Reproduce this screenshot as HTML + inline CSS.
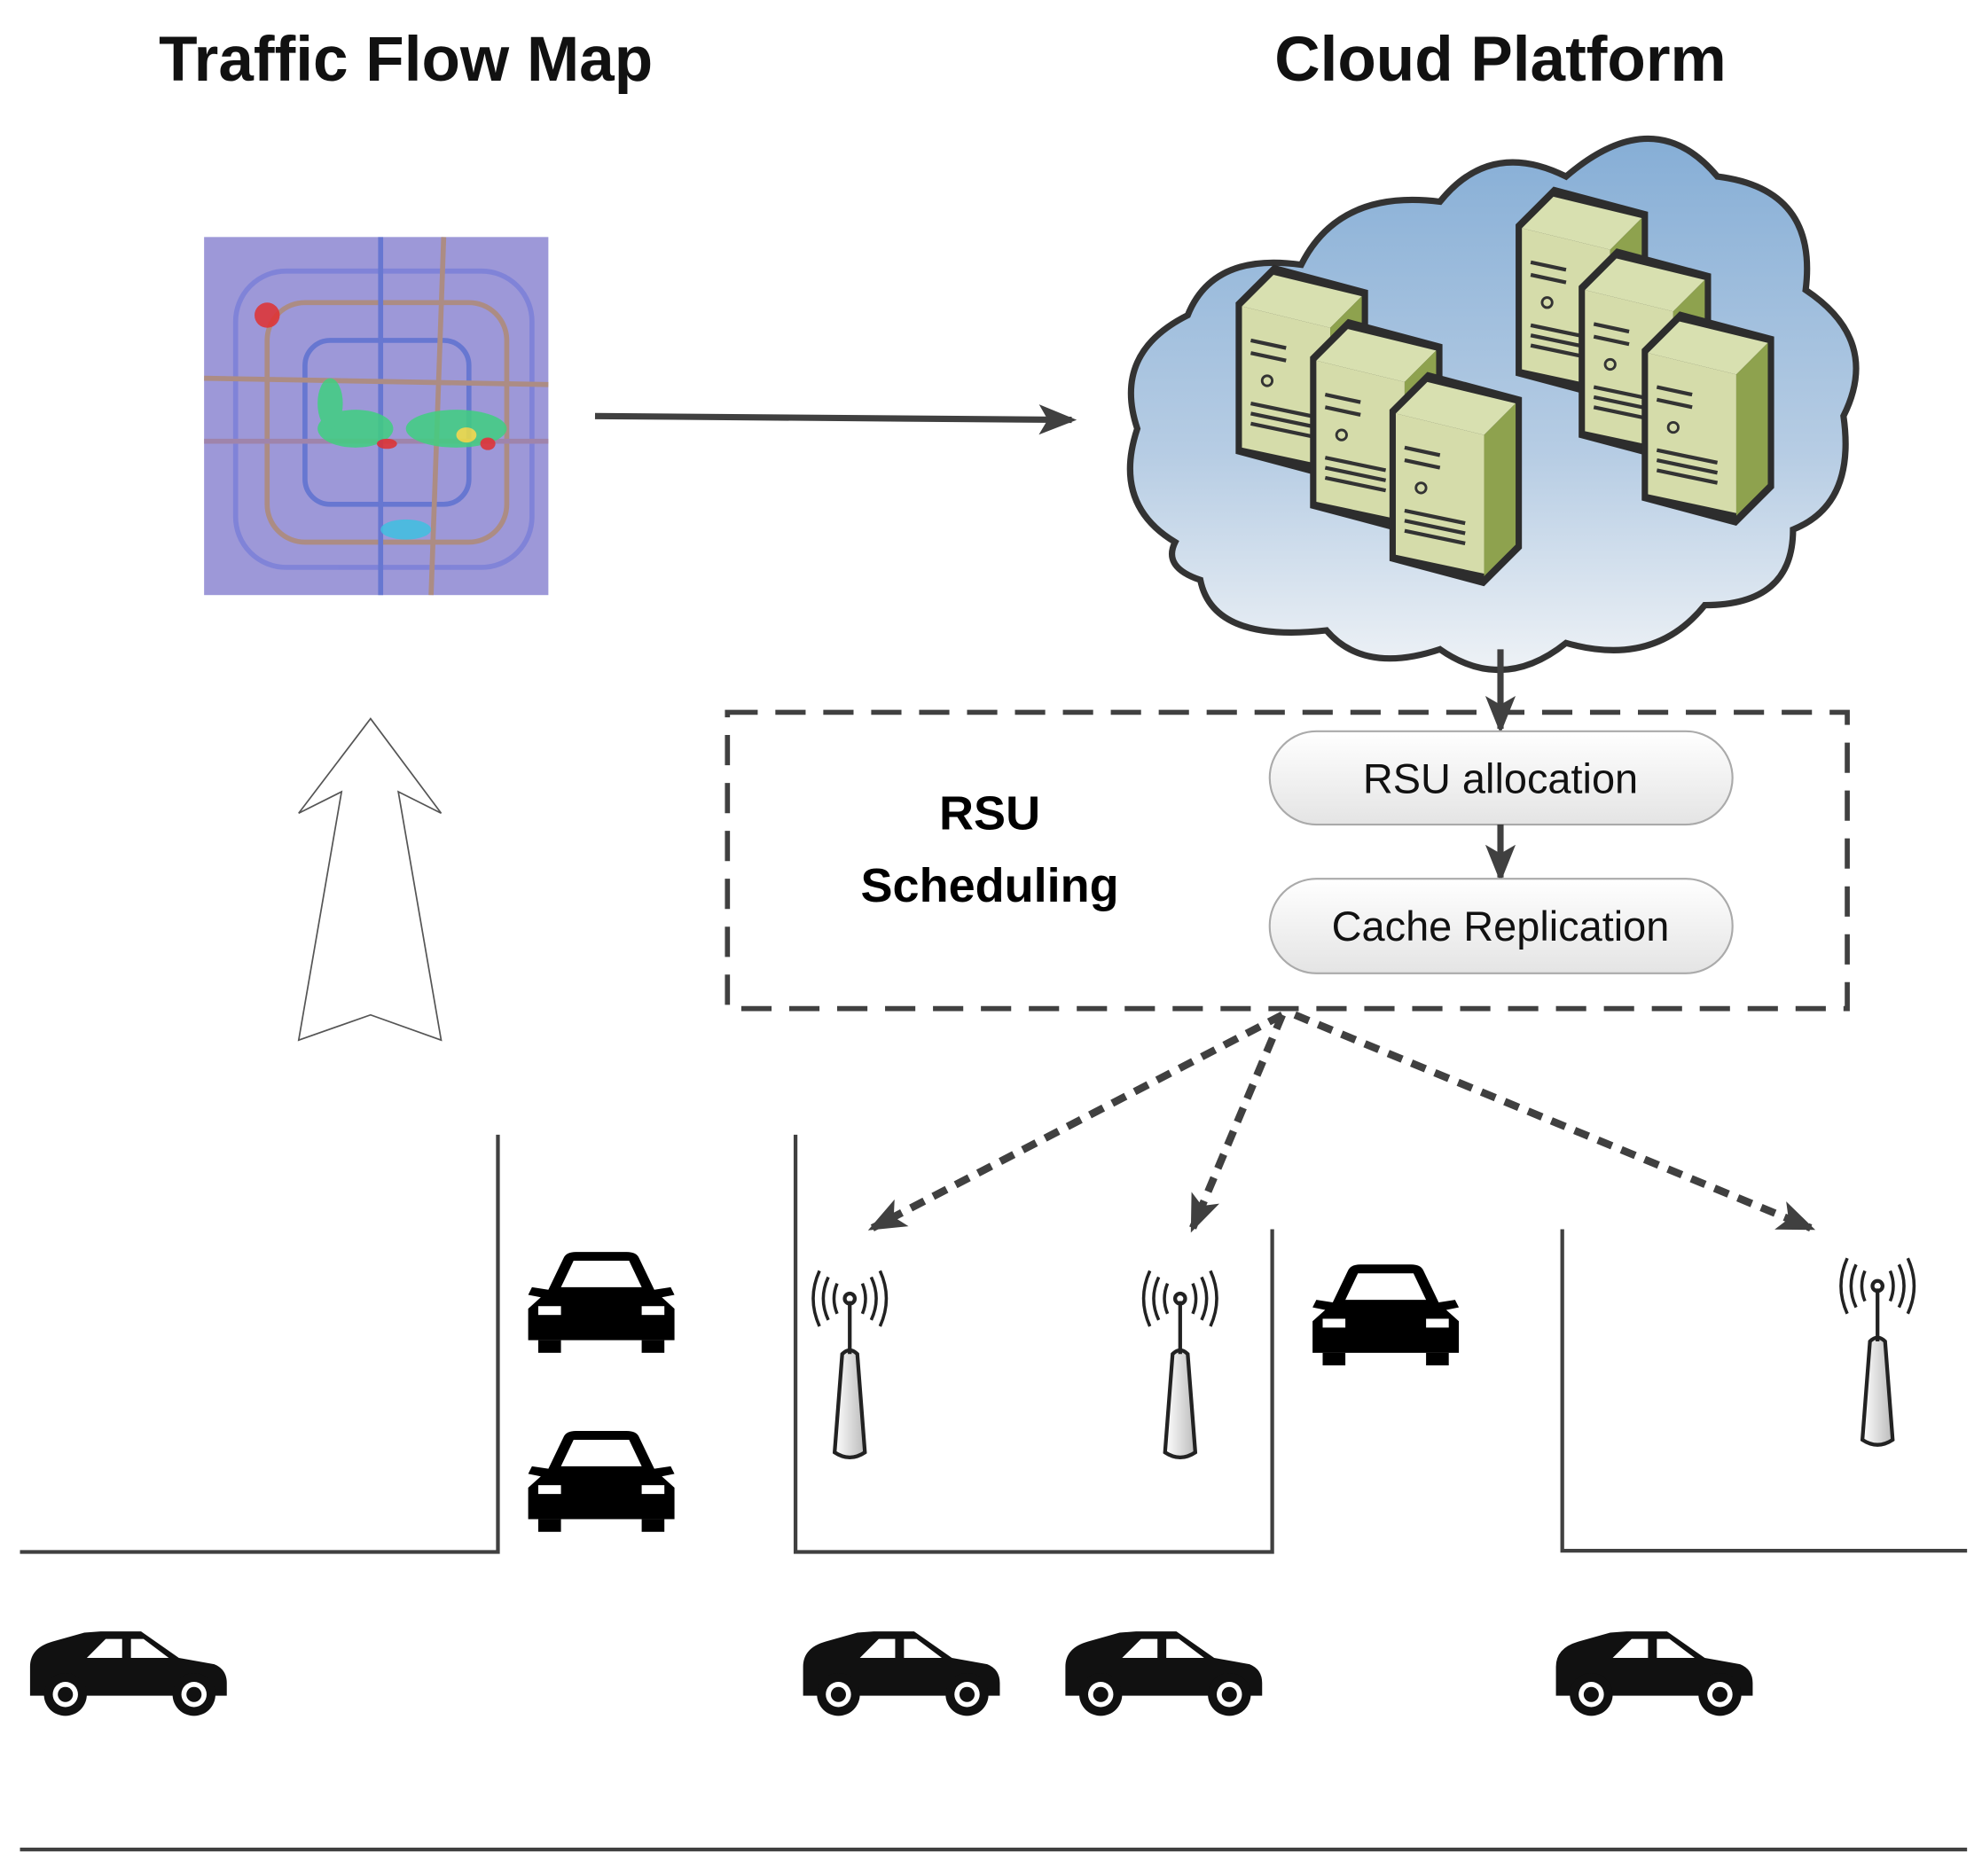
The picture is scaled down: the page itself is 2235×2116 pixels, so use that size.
<!DOCTYPE html>
<html><head><meta charset="utf-8"><style>
html,body{margin:0;padding:0;background:#fff;width:2235px;height:2116px;overflow:hidden}
svg{display:block}
</style></head><body>
<svg width="2235" height="2116" viewBox="0 0 1568 1488" xmlns="http://www.w3.org/2000/svg" font-family="Liberation Sans, sans-serif">
<defs>
<linearGradient id="cg" x1="0" y1="0" x2="0" y2="1">
<stop offset="0" stop-color="#86aed6"/><stop offset="0.6" stop-color="#b7cde4"/><stop offset="1" stop-color="#eef2f6"/></linearGradient>
<linearGradient id="pill" x1="0" y1="0" x2="0" y2="1"><stop offset="0" stop-color="#fff"/><stop offset="1" stop-color="#e4e4e4"/></linearGradient>
<linearGradient id="antg" x1="0" y1="0" x2="1" y2="0"><stop offset="0" stop-color="#fff"/><stop offset="1" stop-color="#bbb"/></linearGradient>
<marker id="ah" markerWidth="30" markerHeight="24" refX="26" refY="12" orient="auto" markerUnits="userSpaceOnUse" viewBox="0 0 30 24"><path d="M0,0 L30,12 L0,24 L7,12z" fill="#404040"/></marker>
<g id="srv">
<path d="M0,30 L30,0 L105,20 L105,140 L75,170 L0,150z" fill="#2d2d2d"/>
<path d="M5,33 L30,8 L100,25 L75,50z" fill="#d8e0b0"/>
<path d="M5,33 L75,50 L75,160 L5,145z" fill="#d5dcaa"/>
<path d="M75,50 L100,25 L100,137 L75,162z" fill="#8ea24e"/>
<g stroke="#333" stroke-width="3"><line x1="12" y1="110" x2="60" y2="120"/><line x1="12" y1="118" x2="60" y2="128"/><line x1="12" y1="126" x2="60" y2="136"/><line x1="12" y1="60" x2="40" y2="66"/><line x1="12" y1="70" x2="40" y2="76"/></g>
<circle cx="25" cy="92" r="4" fill="none" stroke="#333" stroke-width="2"/>
</g>
<g id="carf">
<path d="M-42,-10 L-30,-35 Q-28,-40 -20,-40 L20,-40 Q28,-40 30,-35 L42,-10 L55,-12 L58,-6 L48,-4 L58,5 L58,30 L-58,30 L-58,5 L-48,-4 L-58,-6 L-55,-12z" fill="#000"/>
<path d="M-32,-12 L-22,-33 L22,-33 L32,-12z" fill="#fff"/>
<rect x="-50" y="3" width="18" height="7" fill="#fff"/><rect x="32" y="3" width="18" height="7" fill="#fff"/>
<rect x="-50" y="30" width="18" height="10" fill="#000"/><rect x="32" y="30" width="18" height="10" fill="#000"/>
</g>
<g id="cars">
<path d="M-78,-5 Q-78,-20 -60,-25 L-35,-32 L-22,-33 L-15,-33 L10,-33 L40,-12 L68,-7 Q78,-3 78,8 L78,18 L-78,18z" fill="#111"/>
<path d="M-33,-12 L-18,-27 L-5,-27 L-5,-12z M2,-27 L12,-27 L32,-12 L2,-12z" fill="#fff"/>
<circle cx="-50" cy="17" r="17" fill="#111"/><circle cx="-50" cy="17" r="10" fill="#fff"/><circle cx="-50" cy="17" r="6" fill="#111"/>
<circle cx="52" cy="17" r="17" fill="#111"/><circle cx="52" cy="17" r="10" fill="#fff"/><circle cx="52" cy="17" r="6" fill="#111"/>
</g>
<g id="antenna">
<path d="M-12,130 L-6,52 Q0,46 6,52 L12,130 Q0,138 -12,130z" fill="url(#antg)" stroke="#222" stroke-width="3"/>
<line x1="0" y1="10" x2="0" y2="52" stroke="#222" stroke-width="3"/>
<circle cx="0" cy="8" r="4" fill="none" stroke="#222" stroke-width="3"/>
<g fill="none" stroke="#222" stroke-width="2.5"><path d="M-10,-4 Q-15,8 -10,20"/><path d="M10,-4 Q15,8 10,20"/><path d="M-17,-9 Q-25,8 -17,25"/><path d="M17,-9 Q25,8 17,25"/><path d="M-24,-14 Q-34,8 -24,30"/><path d="M24,-14 Q34,8 24,30"/></g>
</g>
</defs>

<text x="320" y="64" font-size="50" font-weight="bold" text-anchor="middle" fill="#111">Traffic Flow Map</text>
<text x="1188" y="64" font-size="50" font-weight="bold" text-anchor="middle" fill="#111">Cloud Platform</text>

<rect x="160" y="188" width="273" height="284" fill="#9d98d8"/>
<g fill="none" stroke-width="4" opacity="0.8">
<rect x="210" y="240" width="190" height="190" rx="30" stroke="#b08a70"/>
<rect x="240" y="270" width="130" height="130" rx="20" stroke="#5a6fd0"/>
<rect x="185" y="215" width="235" height="235" rx="40" stroke="#7a7fd8"/>
<line x1="160" y1="350" x2="433" y2="350" stroke="#a080a0"/>
<line x1="300" y1="188" x2="300" y2="472" stroke="#5a6fd0"/>
<line x1="160" y1="300" x2="433" y2="305" stroke="#b08a70"/>
<line x1="350" y1="188" x2="340" y2="472" stroke="#b08a70"/>
</g>
<g opacity="0.85">
<ellipse cx="280" cy="340" rx="30" ry="15" fill="#40d080"/><ellipse cx="360" cy="340" rx="40" ry="15" fill="#40d080"/>
<ellipse cx="260" cy="320" rx="10" ry="20" fill="#40d080"/><ellipse cx="210" cy="250" rx="10" ry="10" fill="#e03030"/>
<ellipse cx="368" cy="345" rx="8" ry="6" fill="#f0e040"/><ellipse cx="385" cy="352" rx="6" ry="5" fill="#e03030"/>
<ellipse cx="305" cy="352" rx="8" ry="4" fill="#e03030"/><ellipse cx="320" cy="420" rx="20" ry="8" fill="#40c0e0"/>
</g>

<line x1="470" y1="330" x2="848" y2="333" stroke="#404040" stroke-width="5" marker-end="url(#ah)"/>

<path d="M930,430 Q880,400 900,340 Q880,280 940,250 Q960,200 1030,210 Q1060,150 1140,160 Q1180,110 1240,140 Q1310,80 1360,140 Q1440,150 1430,230 Q1490,270 1460,330 Q1470,400 1420,420 Q1420,480 1350,480 Q1310,530 1240,510 Q1190,550 1140,515 Q1080,535 1050,500 Q960,510 950,460 Q920,450 930,430z" fill="url(#cg)" stroke="#333" stroke-width="5"/>
<use href="#srv" x="978" y="210"/>
<use href="#srv" x="1037" y="253"/>
<use href="#srv" x="1100" y="295"/>
<use href="#srv" x="1200" y="148"/>
<use href="#srv" x="1250" y="197"/>
<use href="#srv" x="1300" y="247"/>

<line x1="1188" y1="515" x2="1188" y2="578" stroke="#404040" stroke-width="5" marker-end="url(#ah)"/>

<rect x="575" y="565" width="888" height="235" fill="none" stroke="#404040" stroke-width="4" stroke-dasharray="24,14"/>
<text x="783" y="658" font-size="38" font-weight="bold" text-anchor="middle" fill="#000">RSU</text>
<text x="783" y="715" font-size="38" font-weight="bold" text-anchor="middle" fill="#000">Scheduling</text>
<rect x="1005" y="580" width="367" height="74" rx="37" fill="url(#pill)" stroke="#aaa" stroke-width="1.5"/>
<text x="1188" y="629" font-size="33" text-anchor="middle" fill="#111">RSU allocation</text>
<line x1="1188" y1="654" x2="1188" y2="696" stroke="#404040" stroke-width="5" marker-end="url(#ah)"/>
<rect x="1005" y="697" width="367" height="75" rx="37" fill="url(#pill)" stroke="#aaa" stroke-width="1.5"/>
<text x="1188" y="746" font-size="33" text-anchor="middle" fill="#111">Cache Replication</text>

<g stroke="#404040" stroke-width="6" stroke-dasharray="12,8" fill="none">
<line x1="1015" y1="805" x2="690" y2="974" marker-end="url(#ah)"/>
<line x1="1015" y1="805" x2="944" y2="974" marker-end="url(#ah)"/>
<line x1="1025" y1="805" x2="1434" y2="974" marker-end="url(#ah)"/>
</g>

<path d="M292,570 L348,645 L314,628 L348,825 L292,805 L235,825 L269,628 L235,645z" fill="#fff" stroke="#555" stroke-width="1.2"/>

<g stroke="#404040" stroke-width="3" fill="none">
<polyline points="14,1231 393,1231 393,900"/>
<polyline points="629,900 629,1231 1007,1231 1007,975"/>
<polyline points="1237,975 1237,1230 1558,1230"/>
<line x1="14" y1="1467" x2="1558" y2="1467"/>
</g>

<use href="#carf" x="475" y="1033"/>
<use href="#carf" x="475" y="1175"/>
<use href="#carf" x="1097" y="1043"/>
<use href="#cars" x="100" y="1327"/>
<use href="#cars" x="713" y="1327"/>
<use href="#cars" x="921" y="1327"/>
<use href="#cars" x="1310" y="1327"/>

<use href="#antenna" x="672" y="1022"/>
<use href="#antenna" x="934" y="1022"/>
<use href="#antenna" x="1487" y="1012"/>
</svg>
</body></html>
